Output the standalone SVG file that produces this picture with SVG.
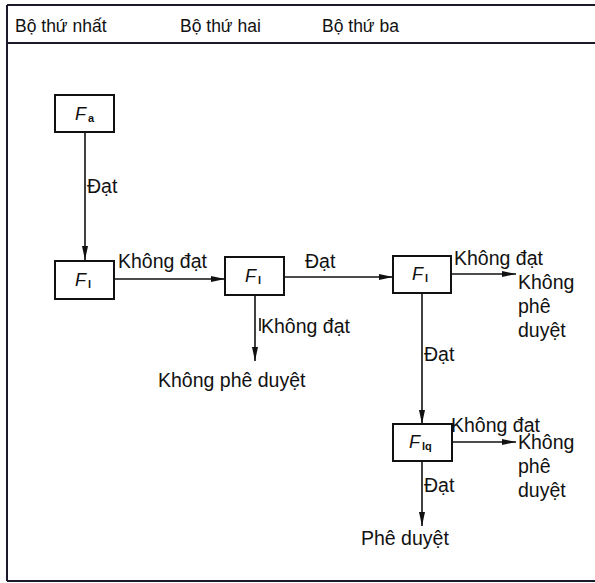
<svg xmlns="http://www.w3.org/2000/svg" width="595" height="583" viewBox="0 0 595 583">
<style>
.t{font-family:"Liberation Sans",Arial,sans-serif;font-size:19.5px;fill:#111}
.h{font-family:"Liberation Sans",Arial,sans-serif;font-size:17.5px;fill:#111}
.box{fill:#fff;stroke:#111;stroke-width:2}
.ln{stroke:#111;stroke-width:1.6;fill:none}
.fr{stroke:#1a1a2a;stroke-width:2;fill:none}
.f{font-family:"Liberation Sans",Arial,sans-serif;font-size:18px;font-style:italic;fill:#111}
.s{font-family:"Liberation Sans",Arial,sans-serif;font-size:11px;font-weight:bold;fill:#111}
</style>
<defs>
<marker id="ar" viewBox="0 0 14 6" refX="14" refY="3" markerWidth="14" markerHeight="6" markerUnits="userSpaceOnUse" orient="auto">
<path d="M0,0 L14,3 L0,6 Z" fill="#111"/>
</marker>
</defs>
<rect width="595" height="583" fill="#fff"/>
<g id="frame">
<line class="fr" x1="7" y1="5" x2="595" y2="5"/>
<line class="fr" x1="7" y1="43" x2="595" y2="43"/>
<line class="fr" x1="7" y1="5" x2="7" y2="581"/>
<line class="fr" x1="7" y1="581" x2="595" y2="581"/>
<text class="h" x="15" y="32">Bộ thứ nhất</text>
<text class="h" x="180" y="32">Bộ thứ hai</text>
<text class="h" x="322" y="32">Bộ thứ ba</text>
</g>
<g id="connectors">
<line class="ln" x1="85" y1="132" x2="85" y2="260" marker-end="url(#ar)"/>
<text class="t" x="87" y="193">Đạt</text>
<line class="ln" x1="115" y1="279" x2="225" y2="279" marker-end="url(#ar)"/>
<text class="t" x="118" y="268">Không đạt</text>
<line class="ln" x1="284" y1="277" x2="393" y2="277" marker-end="url(#ar)"/>
<text class="t" x="305" y="268">Đạt</text>
<line class="ln" x1="255" y1="295" x2="255" y2="361" marker-end="url(#ar)"/>
<line class="ln" x1="260" y1="318" x2="260" y2="331" stroke-width="1"/>
<text class="t" x="261" y="333">Không đạt</text>
<text class="t" x="158" y="387">Không phê duyệt</text>
<line class="ln" x1="451" y1="274" x2="516" y2="274" marker-end="url(#ar)"/>
<text class="t" x="454" y="265">Không đạt</text>
<text class="t" x="518" y="289">Không</text>
<text class="t" x="518" y="313">phê</text>
<text class="t" x="518" y="337">duyệt</text>
<line class="ln" x1="422" y1="293" x2="422" y2="424" marker-end="url(#ar)"/>
<text class="t" x="424" y="361">Đạt</text>
<line class="ln" x1="452" y1="442" x2="516" y2="442" marker-end="url(#ar)"/>
<text class="t" x="451" y="432">Không đạt</text>
<text class="t" x="518" y="449">Không</text>
<text class="t" x="518" y="473">phê</text>
<text class="t" x="518" y="497">duyệt</text>
<line class="ln" x1="422" y1="461" x2="422" y2="526" marker-end="url(#ar)"/>
<text class="t" x="424" y="492">Đạt</text>
<text class="t" x="361" y="545">Phê duyệt</text>
</g>
<g id="Fa">
<rect class="box" x="55" y="95" width="59" height="37"/>
<text class="f" x="75" y="120">F<tspan class="s" dx="2" dy="2" font-style="normal">a</tspan></text>
</g>
<g id="Fl1">
<rect class="box" x="55" y="261" width="59" height="38"/>
<text class="f" x="75" y="286">F<tspan class="s" dx="2" dy="2" font-style="normal">l</tspan></text>
</g>
<g id="Fl2">
<rect class="box" x="225" y="257" width="59" height="38"/>
<text class="f" x="245" y="282">F<tspan class="s" dx="2" dy="2" font-style="normal">l</tspan></text>
</g>
<g id="Fl3">
<rect class="box" x="393" y="256" width="58" height="37"/>
<text class="f" x="412" y="280">F<tspan class="s" dx="2" dy="2" font-style="normal">l</tspan></text>
</g>
<g id="Flq">
<rect class="box" x="393" y="424" width="59" height="37"/>
<text class="f" x="409" y="448">F<tspan class="s" dx="2" dy="2" font-style="normal">lq</tspan></text>
</g>
</svg>
